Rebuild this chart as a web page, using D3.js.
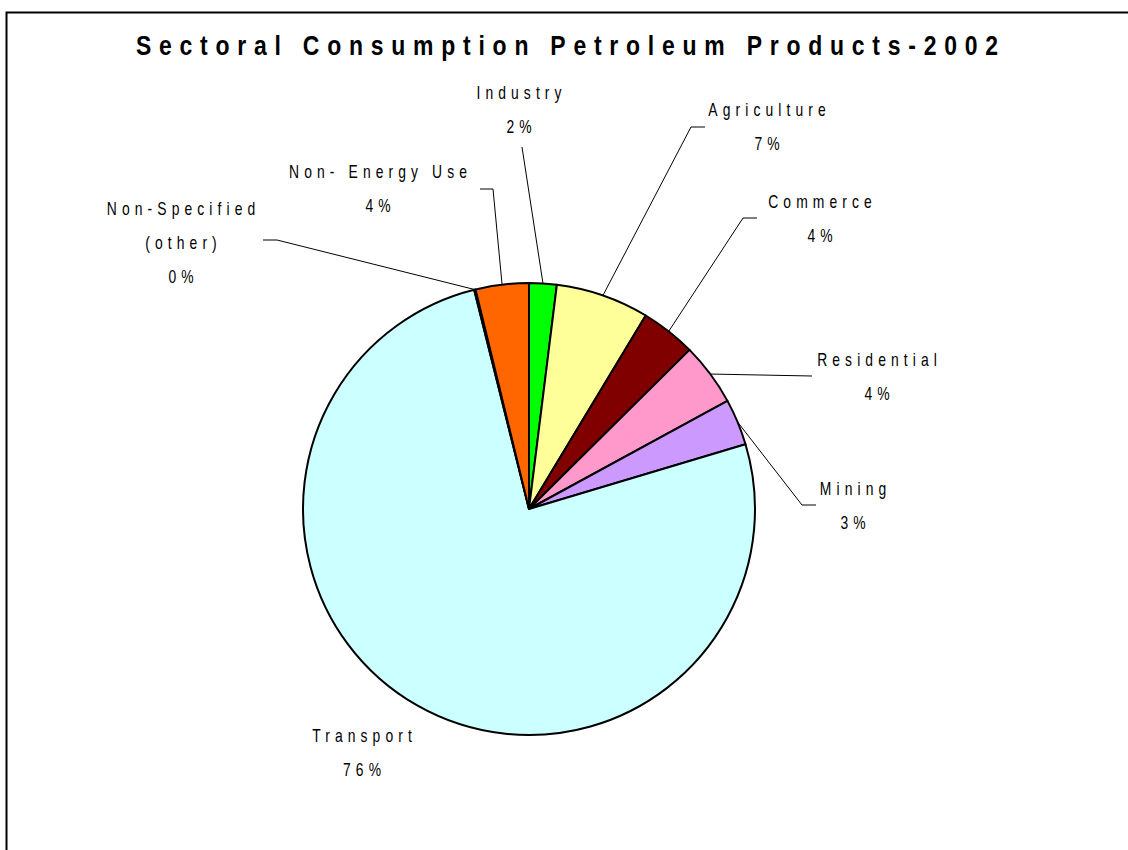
<!DOCTYPE html>
<html>
<head>
<meta charset="utf-8">
<script src="https://cdn.jsdelivr.net/npm/d3@7"></script>
<style>
  body { margin: 0; background: #fff; }
  svg text { font-family: "Liberation Sans", Arial, sans-serif; fill: #000; }
</style>
</head>
<body>
<svg id="chart"></svg>
<script>
// sectors in drawing order (clockwise from 12 o'clock)
const sectors = ['Industry', 'Agriculture', 'Commerce', 'Residential', 'Mining', 'Transport', 'Non-Specified (other)', 'Non-Energy Use']
const shares = [1.97, 6.67, 3.93, 4.49, 3.31, 75.73, 0.1, 3.8]
const pctLabels = ['2%', '7%', '4%', '4%', '3%', '76%', '0%', '4%']
const sliceColors = ['#00ff00', '#ffff99', '#800000', '#ff99cc', '#cc99ff', '#ccffff', '#339966', '#ff6600']

// label lines as Excel wrapped them
const nameLines = {
    'Industry': ['Industry'],
    'Agriculture': ['Agriculture'],
    'Commerce': ['Commerce'],
    'Residential': ['Residential'],
    'Mining': ['Mining'],
    'Transport': ['Transport'],
    'Non-Specified (other)': ['Non-Specified', '(other)'],
    'Non-Energy Use': ['Non- Energy Use']
}

// label layout: centre x, first baseline, leader start + elbow
const labelLayout = {
    'Industry': {x: 519, y: 99, lead: [[522, 147]]},
    'Agriculture': {x: 767, y: 116, lead: [[705, 127], [691, 127]]},
    'Commerce': {x: 820, y: 208, lead: [[757, 218], [743, 218]]},
    'Residential': {x: 877, y: 366, lead: [[812, 376]]},
    'Mining': {x: 853, y: 495, lead: [[816, 505], [802, 505]]},
    'Transport': {x: 362, y: 742, lead: null},
    'Non-Specified (other)': {x: 181, y: 215, lead: [[263, 240], [277, 240]]},
    'Non-Energy Use': {x: 378, y: 178, lead: [[480, 189], [493, 189]]}
}

const width = 1128, height = 850
const cx = 529, cy = 509, radius = 226
const lineGap = 34
const squeeze = 0.75      // narrow look of the original font
const spacing = 6.8

const data = sectors.map((s, i) => ({name: s, value: shares[i], pct: pctLabels[i], color: sliceColors[i]}))

const svg = d3.select('#chart')
    .attr('width', width)
    .attr('height', height)

// outer frame (runs off the right and bottom edges)
svg.append('path')
    .attr('d', `M${width + 5},12.5 H6.5 V${height + 5}`)
    .attr('fill', 'none')
    .attr('stroke', '#000')
    .attr('stroke-width', 2)

const titleScale = 0.82
svg.append('g')
    .attr('transform', `translate(136, 55) scale(${titleScale}, 1)`)
    .append('text')
    .text('Sectoral Consumption Petroleum Products-2002')
    .attr('x', 0)
    .attr('y', 0)
    .attr('textLength', (998 - 136) / titleScale)
    .attr('lengthAdjust', 'spacing')
    .style('font-size', '28px')
    .style('font-weight', 'bold')

const pie = d3.pie()
    .value(d => d.value)
    .sort(null)

const arc = d3.arc().innerRadius(0).outerRadius(radius)
const edgeArc = d3.arc().innerRadius(radius).outerRadius(radius)

const arcs = pie(data)

const g = svg.append('g')
    .attr('transform', `translate(${cx}, ${cy})`)

g.selectAll('.slice')
    .data(arcs)
    .join('path')
    .attr('class', 'slice')
    .attr('d', arc)
    .attr('fill', d => d.data.color)
    .attr('stroke', '#000')
    .attr('stroke-width', 2)
    .attr('stroke-linejoin', 'round')

// leader lines from label to the slice edge
const line = d3.line()
svg.selectAll('.leader')
    .data(arcs.filter(d => labelLayout[d.data.name].lead))
    .join('path')
    .attr('class', 'leader')
    .attr('d', d => {
        const [ex, ey] = edgeArc.centroid(d)
        return line(labelLayout[d.data.name].lead.concat([[cx + ex, cy + ey]]))
    })
    .attr('fill', 'none')
    .attr('stroke', '#000')
    .attr('stroke-width', 1)

// slice labels
const labels = svg.selectAll('.slice-label')
    .data(data)
    .join('g')
    .attr('class', 'slice-label')
    .attr('transform', d => `translate(${labelLayout[d.name].x}, 0) scale(${squeeze}, 1)`)
    .append('text')
    .attr('text-anchor', 'middle')
    .style('font-size', '18.5px')
    .style('letter-spacing', spacing + 'px')

labels.each(function (d) {
    const pos = labelLayout[d.name]
    const rows = nameLines[d.name].concat([d.pct])
    d3.select(this).selectAll('tspan')
        .data(rows)
        .join('tspan')
        .attr('x', spacing / 2)
        .attr('y', (r, i) => pos.y + i * lineGap)
        .text(r => r)
})
</script>
</body>
</html>
